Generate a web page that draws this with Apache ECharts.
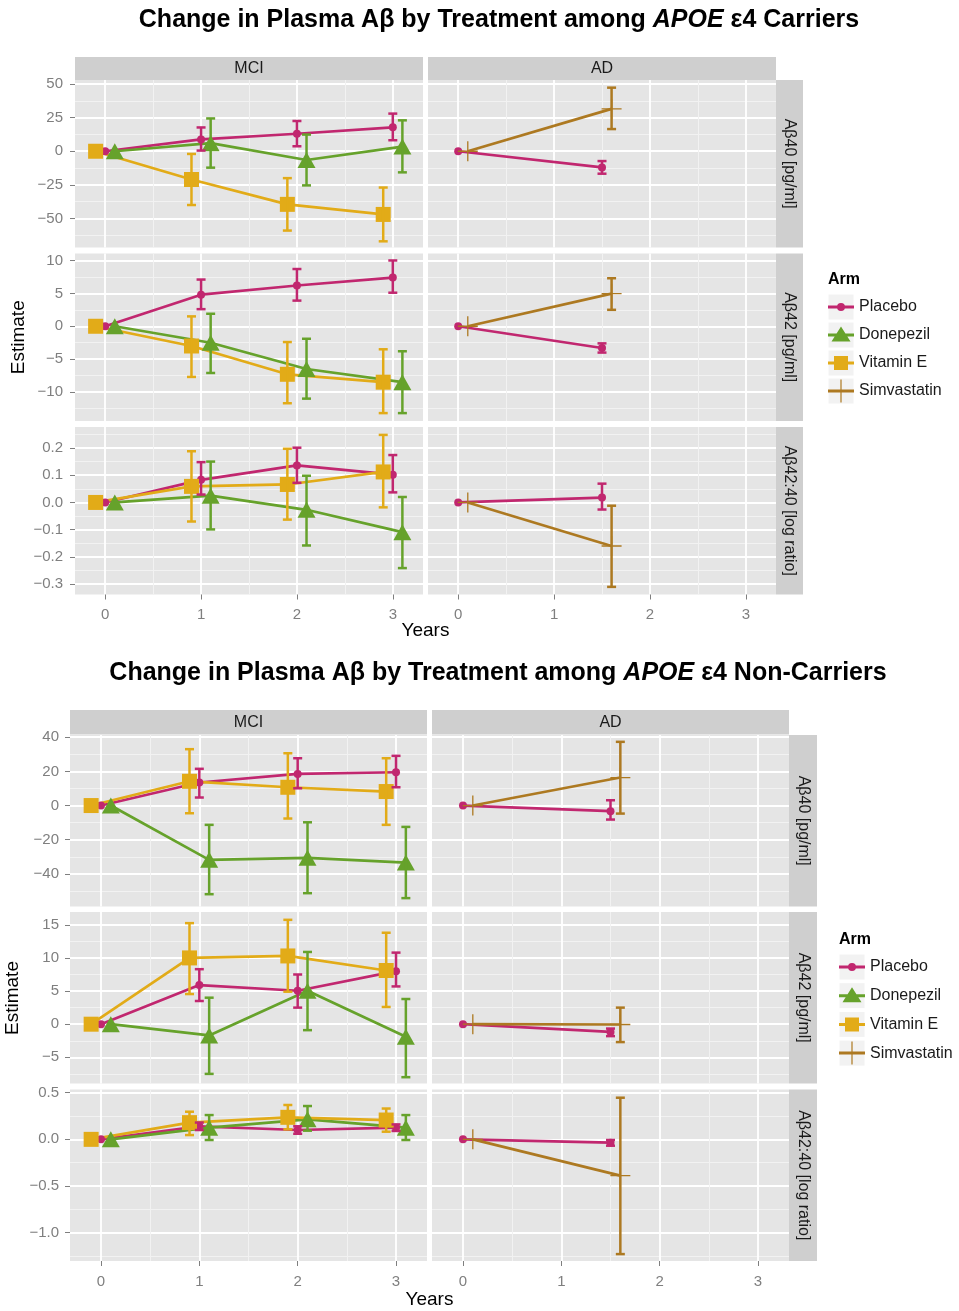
<!DOCTYPE html>
<html><head><meta charset="utf-8">
<script src="https://cdn.jsdelivr.net/npm/echarts@6/dist/echarts.min.js"></script>
<style>html,body{margin:0;padding:0;background:#fff}#c{width:959px;height:1311px}</style>
</head><body><div id="c"></div>
<script>
// ---------------- DATA ----------------
const armNames = ['Placebo', 'Donepezil', 'Vitamin E', 'Simvastatin'];
const diagnoses = ['MCI', 'AD'];
const measures = ['Aβ40 [pg/ml]', 'Aβ42 [pg/ml]', 'Aβ42:40 [log ratio]'];
const visitsMCI = [0, 1, 2, 3];
const visitsAD = [0, 1.5];
const yearTicks = [0, 1, 2, 3];

// each entry: [estimate, lower, upper] per visit
// APOE e4 carriers
const car_ab40_mci_placebo = [[0,0,0],[8.8,0.5,17.7],[13,3.7,22.5],[17.8,8.2,28]];
const car_ab40_mci_donepezil = [[0,0,0],[6,-12.2,24.4],[-6.5,-25.4,12.4],[3.5,-15.7,23]];
const car_ab40_mci_vitE = [[0,0,0],[-21,-40,-2],[-39.5,-59,-20],[-47,-67,-27]];
const car_ab40_ad_placebo = [[0,0,0],[-12,-16.7,-7.3]];
const car_ab40_ad_simva = [[0,0,0],[31.5,16.5,47.3]];

const car_ab42_mci_placebo = [[0,0,0],[4.8,2.6,7.1],[6.2,3.9,8.7],[7.4,5.1,10]];
const car_ab42_mci_donepezil = [[0,0,0],[-2.5,-7.1,1.9],[-6.5,-11,-1.9],[-8.5,-13.2,-3.8]];
const car_ab42_mci_vitE = [[0,0,0],[-3,-7.7,1.5],[-7.3,-11.7,-2.4],[-8.5,-13.2,-3.5]];
const car_ab42_ad_placebo = [[0,0,0],[-3.3,-4,-2.6]];
const car_ab42_ad_simva = [[0,0,0],[4.96,2.5,7.3]];

const car_ratio_mci_placebo = [[0,0,0],[0.083,0.029,0.148],[0.136,0.072,0.201],[0.102,0.037,0.174]];
const car_ratio_mci_donepezil = [[0,0,0],[0.025,-0.099,0.150],[-0.027,-0.158,0.098],[-0.109,-0.241,0.020]];
const car_ratio_mci_vitE = [[0,0,0],[0.059,-0.070,0.188],[0.066,-0.063,0.197],[0.112,-0.018,0.248]];
const car_ratio_ad_placebo = [[0,0,0],[0.018,-0.026,0.069]];
const car_ratio_ad_simva = [[0,0,0],[-0.160,-0.310,-0.012]];

// APOE e4 non-carriers
const non_ab40_mci_placebo = [[0,0,0],[13.5,4.7,21.5],[18.5,10.1,27.7],[19.5,10.7,29.1]];
const non_ab40_mci_donepezil = [[0,0,0],[-31.8,-51.9,-11.3],[-30.6,-51.3,-9.8],[-33.4,-54.2,-12.5]];
const non_ab40_mci_vitE = [[0,0,0],[14.2,-4.5,33],[10.7,-7.6,30.6],[8.2,-11.3,27.7]];
const non_ab40_ad_placebo = [[0,0,0],[-3.3,-8.2,3.1]];
const non_ab40_ad_simva = [[0,0,0],[16.4,-4.7,37.3]];

const non_ab42_mci_placebo = [[0,0,0],[5.9,3.5,8.3],[5.05,2.5,7.5],[8,5.7,10.8]];
const non_ab42_mci_donepezil = [[0,0,0],[-1.7,-7.5,4],[5.05,-0.9,10.9],[-1.9,-8,3.8]];
const non_ab42_mci_vitE = [[0,0,0],[10,4.55,15.25],[10.3,4.9,15.75],[8.1,2.6,13.8]];
const non_ab42_ad_placebo = [[0,0,0],[-1.16,-1.8,-0.66]];
const non_ab42_ad_simva = [[0,0,0],[-0.05,-2.7,2.5]];

const non_ratio_mci_placebo = [[0,0,0],[0.14,0.10,0.18],[0.10,0.06,0.14],[0.125,0.09,0.16]];
const non_ratio_mci_donepezil = [[0,0,0],[0.125,-0.007,0.26],[0.214,0.093,0.357],[0.125,-0.007,0.26]];
const non_ratio_mci_vitE = [[0,0,0],[0.179,0.046,0.296],[0.236,0.107,0.368],[0.207,0.082,0.33]];
const non_ratio_ad_placebo = [[0,0,0],[-0.036,-0.068,-0.007]];
const non_ratio_ad_simva = [[0,0,0],[-0.389,-1.229,0.446]];

// tick labels
const car_ab40_ticks = [-50, -25, 0, 25, 50];
const car_ab42_ticks = [-10, -5, 0, 5, 10];
const car_ratio_ticks = [-0.3, -0.2, -0.1, 0, 0.1, 0.2];
const non_ab40_ticks = [-40, -20, 0, 20, 40];
const non_ab42_ticks = [-5, 0, 5, 10, 15];
const non_ratio_ticks = [-1, -0.5, 0, 0.5];

// ---------------- LAYOUT / STYLE ----------------
const FONT = 'Liberation Sans, Arial, sans-serif';
const COLORS = {'Placebo':'#C1276F','Donepezil':'#66A22B','Vitamin E':'#E2AB18','Simvastatin':'#AD7921'};
const DODGE = {'Placebo':0,'Donepezil':0.1,'Vitamin E':-0.1,'Simvastatin':0.1};
const PLUS = 'path://M9.35,0 L10.65,0 L10.65,9.35 L20,9.35 L20,10.65 L10.65,10.65 L10.65,20 L9.35,20 L9.35,10.65 L0,10.65 L0,9.35 L9.35,9.35 Z';
const SYMBOL = {'Placebo':'circle','Donepezil':'triangle','Vitamin E':'rect','Simvastatin':PLUS};
const SYMSIZE = {'Placebo':8,'Donepezil':[18,16],'Vitamin E':15,'Simvastatin':20};
const LEGEND_ICON = {
  'Placebo': 'path://M0,0 M26,26 M0,11.5 L26,11.5 L26,14.5 L0,14.5 Z M9,13 A4,4 0 1,1 17,13 A4,4 0 1,1 9,13 Z',
  'Donepezil': 'path://M0,0 M26,26 M0,11.5 L26,11.5 L26,14.5 L0,14.5 Z M13,4.5 L22.5,19.5 L3.5,19.5 Z',
  'Vitamin E': 'path://M0,0 M26,26 M0,11.5 L26,11.5 L26,14.5 L0,14.5 Z M6,6 L20,6 L20,20 L6,20 Z',
  'Simvastatin': 'path://M0,0 M26,26 M0,11.5 L26,11.5 L26,14.5 L0,14.5 Z M12.4,1.5 L13.6,1.5 L13.6,24.5 L12.4,24.5 Z'
};
const X_RANGE = [-0.315, 3.315];

const figs = [
  {
    title: 'Carriers', titleX: 499, titleY: 20,
    colLeft: [75, 428], colW: 348,
    rowTop: [80, 253.5, 427], rowH: 167.5,
    stripTop: 57, stripH: 23, rStripW: 27,
    yRange: [[-71.6, 53], [-14.4, 11.06], [-0.338, 0.277]],
    yTicks: [car_ab40_ticks, car_ab42_ticks, car_ratio_ticks],
    yDec: [0, 0, 1],
    yMargin: 12,
    panels: [
      [{'Placebo':car_ab40_mci_placebo,'Donepezil':car_ab40_mci_donepezil,'Vitamin E':car_ab40_mci_vitE},
       {'Placebo':car_ab40_ad_placebo,'Simvastatin':car_ab40_ad_simva}],
      [{'Placebo':car_ab42_mci_placebo,'Donepezil':car_ab42_mci_donepezil,'Vitamin E':car_ab42_mci_vitE},
       {'Placebo':car_ab42_ad_placebo,'Simvastatin':car_ab42_ad_simva}],
      [{'Placebo':car_ratio_mci_placebo,'Donepezil':car_ratio_mci_donepezil,'Vitamin E':car_ratio_mci_vitE},
       {'Placebo':car_ratio_ad_placebo,'Simvastatin':car_ratio_ad_simva}]
    ],
    legend: {left: 828, top: 294, gap: 2},
    estX: 19, yearsY: 631
  },
  {
    title: 'Non-Carriers', titleX: 498, titleY: 673,
    colLeft: [70, 432], colW: 357,
    rowTop: [735, 912, 1089.5], rowH: 171.5,
    stripTop: 710, stripH: 24.5, rStripW: 28,
    yRange: [[-59.1, 41.3], [-8.95, 16.93], [-1.303, 0.534]],
    yTicks: [non_ab40_ticks, non_ab42_ticks, non_ratio_ticks],
    yDec: [0, 0, 1],
    yMargin: 11,
    panels: [
      [{'Placebo':non_ab40_mci_placebo,'Donepezil':non_ab40_mci_donepezil,'Vitamin E':non_ab40_mci_vitE},
       {'Placebo':non_ab40_ad_placebo,'Simvastatin':non_ab40_ad_simva}],
      [{'Placebo':non_ab42_mci_placebo,'Donepezil':non_ab42_mci_donepezil,'Vitamin E':non_ab42_mci_vitE},
       {'Placebo':non_ab42_ad_placebo,'Simvastatin':non_ab42_ad_simva}],
      [{'Placebo':non_ratio_mci_placebo,'Donepezil':non_ratio_mci_donepezil,'Vitamin E':non_ratio_mci_vitE},
       {'Placebo':non_ratio_ad_placebo,'Simvastatin':non_ratio_ad_simva}]
    ],
    legend: {left: 839, top: 954, gap: 2.7},
    estX: 13, yearsY: 1300
  }
];

function minorsOf(ticks, range) {
  const step = ticks[1] - ticks[0];
  const out = [];
  const all = [ticks[0] - step].concat(ticks).concat([ticks[ticks.length - 1] + step]);
  for (let i = 0; i < all.length - 1; i++) {
    const m = (all[i] + all[i + 1]) / 2;
    if (m > range[0] && m < range[1]) out.push(m);
  }
  return out;
}
function fmt(dec) {
  return function (v) {
    const s = (Math.abs(v) < 1e-9 ? 0 : v).toFixed(dec);
    return s.replace('-', '\u2212');
  };
}

const option = {
  animation: false,
  backgroundColor: '#FFFFFF',
  grid: [], xAxis: [], yAxis: [], series: [], legend: [], graphic: []
};

function errRender(color) {
  return function (params, api) {
    const x = api.value(0), lo = api.value(1), hi = api.value(2);
    const t = api.coord([x, hi]);
    const b = api.coord([x, lo]);
    const hw = 4.5;
    const st = {stroke: color, lineWidth: 2.5};
    return {
      type: 'group',
      children: [
        {type: 'line', shape: {x1: t[0], y1: t[1], x2: b[0], y2: b[1]}, style: st},
        {type: 'line', shape: {x1: t[0] - hw, y1: t[1], x2: t[0] + hw, y2: t[1]}, style: st},
        {type: 'line', shape: {x1: b[0] - hw, y1: b[1], x2: b[0] + hw, y2: b[1]}, style: st}
      ]
    };
  };
}

const xMinor = minorsOf(yearTicks, X_RANGE);

figs.forEach(function (F, fi) {
  for (let ri = 0; ri < 3; ri++) {
    for (let ci = 0; ci < 2; ci++) {
      const g = option.grid.length;
      option.grid.push({left: F.colLeft[ci], top: F.rowTop[ri], width: F.colW, height: F.rowH,
        show: true, backgroundColor: '#E5E5E5', borderWidth: 0});
      const isBottom = ri === 2, isLeft = ci === 0;
      const yr = F.yRange[ri], yt = F.yTicks[ri];
      const yMinor = minorsOf(yt, yr);
      option.xAxis.push({gridIndex: g, type: 'value', position: 'top', min: X_RANGE[0], max: X_RANGE[1],
        axisLine: {show: false, onZero: false}, axisTick: {show: false, customValues: xMinor},
        axisLabel: {show: false, customValues: xMinor},
        splitLine: {show: true, lineStyle: {color: '#F2F2F2', width: 1}}});
      option.xAxis.push({gridIndex: g, type: 'value', position: 'bottom', min: X_RANGE[0], max: X_RANGE[1],
        axisLine: {show: false, onZero: false},
        axisTick: {show: isBottom, customValues: yearTicks, length: 5, lineStyle: {color: '#7F7F7F', width: 1}},
        axisLabel: {show: isBottom, customValues: yearTicks, color: '#7F7F7F', fontSize: 15, fontFamily: FONT, margin: 13},
        splitLine: {show: true, lineStyle: {color: '#FFFFFF', width: 1.8}}});
      option.yAxis.push({gridIndex: g, type: 'value', position: 'right', min: yr[0], max: yr[1],
        axisLine: {show: false, onZero: false}, axisTick: {show: false, customValues: yMinor},
        axisLabel: {show: false, customValues: yMinor},
        splitLine: {show: true, lineStyle: {color: '#F2F2F2', width: 1}}});
      option.yAxis.push({gridIndex: g, type: 'value', position: 'left', min: yr[0], max: yr[1],
        axisLine: {show: false, onZero: false},
        axisTick: {show: isLeft, customValues: yt, length: 5, lineStyle: {color: '#7F7F7F', width: 1}},
        axisLabel: {show: isLeft, customValues: yt, color: '#7F7F7F', fontSize: 15, fontFamily: FONT,
          margin: F.yMargin, formatter: fmt(F.yDec[ri])},
        splitLine: {show: true, lineStyle: {color: '#FFFFFF', width: 1.8}}});
      const xi = 2 * g + 1, yi = 2 * g + 1;
      const panel = F.panels[ri][ci];
      const visits = ci === 0 ? visitsMCI : visitsAD;
      Object.keys(panel).forEach(function (arm) {
        const vals = panel[arm];
        const c = COLORS[arm];
        option.series.push({
          type: 'line', name: arm, xAxisIndex: xi, yAxisIndex: yi,
          data: vals.map(function (d, i) { return [visits[i] + DODGE[arm], d[0]]; }),
          symbol: SYMBOL[arm], symbolSize: SYMSIZE[arm], showSymbol: true,
          lineStyle: {color: c, width: 2.7}, itemStyle: {color: c, borderWidth: 0},
          z: 2, silent: true, clip: false
        });
        option.series.push({
          type: 'custom', name: arm + ' CI', xAxisIndex: xi, yAxisIndex: yi,
          data: vals.slice(1).map(function (d, i) { return [visits[i + 1] + DODGE[arm], d[1], d[2]]; }),
          encode: {x: 0, y: [1, 2]},
          renderItem: errRender(c), z: 3, silent: true
        });
      });
    }
  }

  const G = option.graphic;
  for (let ci = 0; ci < 2; ci++) {
    G.push({type: 'rect', shape: {x: F.colLeft[ci], y: F.stripTop, width: F.colW, height: F.stripH},
      style: {fill: '#CFCFCF'}, silent: true});
    G.push({type: 'text', x: F.colLeft[ci] + F.colW / 2, y: F.stripTop + F.stripH / 2 + 0.5,
      style: {text: diagnoses[ci], fill: '#1A1A1A', font: '16px ' + FONT, align: 'center', verticalAlign: 'middle'}, silent: true});
  }
  const rx = F.colLeft[1] + F.colW;
  for (let ri = 0; ri < 3; ri++) {
    G.push({type: 'rect', shape: {x: rx, y: F.rowTop[ri], width: F.rStripW, height: F.rowH},
      style: {fill: '#CFCFCF'}, silent: true});
    G.push({type: 'text', x: rx + F.rStripW / 2, y: F.rowTop[ri] + F.rowH / 2, rotation: -Math.PI / 2,
      style: {text: measures[ri], fill: '#1A1A1A', font: '16px ' + FONT, align: 'center', verticalAlign: 'middle'}, silent: true});
  }
  G.push({type: 'text', x: F.titleX, y: F.titleY,
    style: {text: '{b|Change in Plasma Aβ by Treatment among }{i|APOE}{b| ε4 ' + F.title + '}',
      rich: {b: {fontFamily: FONT, fontSize: 25, fontWeight: 'bold', fill: '#000'},
             i: {fontFamily: FONT, fontSize: 25, fontWeight: 'bold', fontStyle: 'italic', fill: '#000'}},
      align: 'center', verticalAlign: 'middle'}, silent: true});
  const pTop = F.rowTop[0], pBot = F.rowTop[2] + F.rowH;
  G.push({type: 'text', x: F.estX, y: (pTop + pBot) / 2, rotation: Math.PI / 2,
    style: {text: 'Estimate', fill: '#000', font: '19px ' + FONT, align: 'center', verticalAlign: 'middle'}, silent: true});
  G.push({type: 'text', x: (F.colLeft[0] + F.colLeft[1] + F.colW) / 2, y: F.yearsY,
    style: {text: 'Years', fill: '#000', font: '19px ' + FONT, align: 'center', verticalAlign: 'middle'}, silent: true});
  G.push({type: 'text', x: F.legend.left, y: F.legend.top - 14,
    style: {text: 'Arm', fill: '#000', font: 'bold 16px ' + FONT, align: 'left', verticalAlign: 'middle'}, silent: true});
  for (let k = 0; k < armNames.length; k++) {
    G.push({type: 'rect', shape: {x: F.legend.left, y: F.legend.top + k * (26 + F.legend.gap), width: 26, height: 26},
      style: {fill: '#F2F2F2', stroke: '#FFFFFF', lineWidth: 1}, silent: true, z: 0});
  }
  option.legend.push({
    orient: 'vertical', left: F.legend.left, top: F.legend.top, padding: 0,
    itemWidth: 26, itemHeight: 26, itemGap: F.legend.gap, selectedMode: false,
    itemStyle: {borderWidth: 0},
    textStyle: {fontSize: 16, color: '#1A1A1A', fontFamily: FONT},
    data: armNames.map(function (n) { return {name: n, icon: LEGEND_ICON[n]}; })
  });
});

const chart = echarts.init(document.getElementById('c'), null, {renderer: 'canvas'});
chart.setOption(option);
</script>
</body></html>
